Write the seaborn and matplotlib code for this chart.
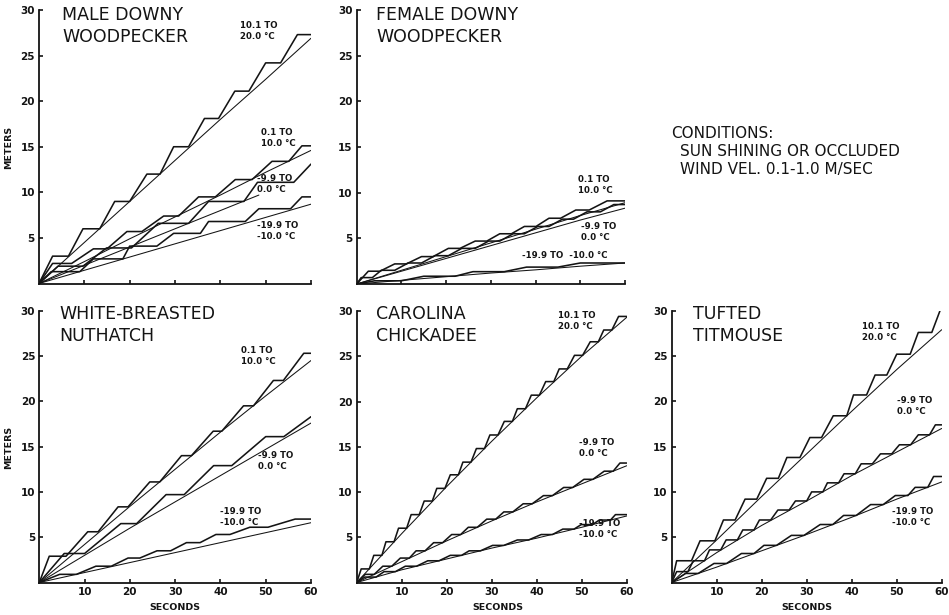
import matplotlib
matplotlib.use("Agg")
import matplotlib.pyplot as plt
import seaborn as sns

# ---------------------------------------------------------------- data
FIT_SECONDS = [0, 10, 20, 30, 40, 50, 60]
Y_TICKS = [5, 10, 15, 20, 25, 30]
X_TICKS = [10, 20, 30, 40, 50, 60]

# Male downy woodpecker
MALE_HOT_LEVEL = [3.0, 6.0, 9.0, 12.0, 15.0, 18.1, 21.1, 24.2, 27.3]
MALE_HOT_START = [3.0, 9.7, 16.7, 23.8, 29.7, 36.5, 43.2, 50.0, 57.0]
MALE_HOT_END = [6.5, 13.4, 20.0, 26.7, 33.0, 39.6, 46.3, 53.3, 60.0]
MALE_HOT_FIT = [0, 4.5, 9.0, 13.5, 18.0, 22.4, 26.9]

MALE_MILD_LEVEL = [2.2, 3.8, 5.7, 7.4, 9.5, 11.4, 13.4, 15.1]
MALE_MILD_START = [3.0, 12.0, 19.4, 27.5, 35.2, 43.3, 51.4, 58.0]
MALE_MILD_END = [7.2, 15.0, 22.7, 30.8, 38.9, 47.0, 55.1, 60.0]
MALE_MILD_FIT = [0, 2.4, 4.9, 7.3, 9.7, 12.2, 14.6]

MALE_COLD_LEVEL = [1.9, 3.9, 6.6, 9.0, 11.1, 13.1]
MALE_COLD_START = [4.2, 14.9, 26.3, 37.4, 48.2, 60.0]
MALE_COLD_END = [9.7, 20.4, 33.0, 45.2, 56.2, 60.0]
MALE_COLD_FIT_SECONDS = [0, 10, 20, 30, 40, 48.5]
MALE_COLD_FIT = [0, 2.0, 4.0, 6.0, 8.0, 9.7]

MALE_FROST_LEVEL = [1.3, 2.7, 4.1, 5.5, 6.8, 8.2, 9.5]
MALE_FROST_START = [2.7, 12.0, 20.0, 29.7, 37.4, 48.5, 58.0]
MALE_FROST_END = [9.0, 18.5, 26.0, 35.6, 45.5, 55.5, 60.0]
MALE_FROST_FIT = [0, 1.45, 2.9, 4.35, 5.8, 7.25, 8.7]

# Female downy woodpecker
FEM_MILD_LEVEL = [1.4, 2.2, 3.0, 3.9, 4.7, 5.5, 6.3, 7.2, 8.1, 9.1]
FEM_MILD_START = [2.6, 8.5, 14.5, 20.5, 26.5, 32.0, 37.5, 43.0, 49.0, 56.0]
FEM_MILD_END = [5.2, 11.1, 17.1, 23.1, 29.1, 34.6, 40.1, 45.6, 52.0, 60.0]
FEM_MILD_FIT = [0, 1.5, 3.0, 4.5, 6.0, 7.5, 8.9]

FEM_COLD_LEVEL = [0.7, 1.5, 2.3, 3.1, 3.9, 4.7, 5.5, 6.3, 7.1, 7.9, 8.7]
FEM_COLD_START = [1.0, 5.5, 11.5, 17.5, 23.5, 29.5, 35.0, 40.5, 46.0, 51.5, 57.5]
FEM_COLD_END = [3.5, 8.5, 14.5, 20.5, 26.5, 32.0, 37.5, 43.0, 48.5, 54.5, 60.0]
FEM_COLD_FIT = [0, 1.4, 2.8, 4.2, 5.6, 7.0, 8.3]

FEM_FROST_LEVEL = [0.35, 0.85, 1.35, 1.85, 2.3]
FEM_FROST_START = [4.0, 15.0, 26.0, 38.0, 50.0]
FEM_FROST_END = [10.0, 22.0, 33.0, 45.0, 60.0]
FEM_FROST_FIT = [0, 0.4, 0.8, 1.2, 1.55, 1.95, 2.3]

# White-breasted nuthatch
NUT_MILD_LEVEL = [2.9, 5.6, 8.35, 11.1, 14.0, 16.7, 19.5, 22.3, 25.3]
NUT_MILD_START = [2.2, 10.7, 17.4, 24.4, 31.4, 38.4, 45.1, 51.7, 58.4]
NUT_MILD_END = [5.9, 13.0, 19.6, 26.6, 33.6, 40.3, 47.3, 53.9, 60.0]
NUT_MILD_FIT = [0, 4.2, 8.4, 12.5, 16.6, 20.6, 24.5]

NUT_COLD_LEVEL = [3.2, 6.5, 9.7, 12.9, 16.1, 18.3]
NUT_COLD_START = [5.5, 18.0, 28.0, 38.5, 50.0, 60.0]
NUT_COLD_END = [10.0, 21.5, 32.0, 42.5, 54.0, 60.0]
NUT_COLD_FIT = [0, 3.0, 6.0, 8.9, 11.8, 14.7, 17.6]

NUT_FROST_LEVEL = [0.9, 1.8, 2.7, 3.5, 4.4, 5.3, 6.1, 7.0]
NUT_FROST_START = [4.5, 12.5, 19.6, 26.0, 32.5, 39.0, 46.5, 56.5]
NUT_FROST_END = [8.2, 15.9, 22.2, 29.0, 35.5, 42.1, 50.5, 60.0]
NUT_FROST_FIT = [0, 1.1, 2.2, 3.3, 4.4, 5.5, 6.6]

# Carolina chickadee
CHI_HOT_LEVEL = [1.5, 3.0, 4.5, 6.0, 7.5, 9.0, 10.4, 11.9, 13.3, 14.8,
                 16.3, 17.8, 19.2, 20.7, 22.2, 23.6, 25.1, 26.6, 27.9, 29.4]
CHI_HOT_START = [1.0, 3.8, 6.5, 9.3, 12.1, 15.0, 17.8, 20.8, 23.6, 26.6,
                 29.6, 32.8, 35.7, 38.8, 42.0, 45.0, 48.4, 51.9, 54.9, 58.2]
CHI_HOT_END = [2.8, 5.6, 8.3, 11.1, 13.9, 16.8, 19.6, 22.6, 25.4, 28.4,
               31.4, 34.6, 37.5, 40.6, 43.8, 46.8, 50.2, 53.7, 56.7, 60.0]
CHI_HOT_FIT = [0, 5.4, 10.6, 15.6, 20.4, 25.0, 29.3]

CHI_COLD_LEVEL = [0.9, 1.8, 2.7, 3.5, 4.4, 5.3, 6.1, 7.0, 7.8, 8.7,
                  9.6, 10.5, 11.4, 12.3, 13.2]
CHI_COLD_START = [1.9, 5.8, 9.7, 13.2, 17.1, 21.1, 24.8, 28.9, 32.7, 37.0,
                  41.5, 46.0, 50.5, 55.0, 58.5]
CHI_COLD_END = [3.9, 7.8, 11.7, 15.2, 19.1, 23.1, 26.8, 30.9, 34.7, 39.0,
                43.5, 48.0, 52.5, 57.0, 60.0]
CHI_COLD_FIT = [0, 2.3, 4.6, 6.8, 8.9, 10.9, 12.9]

CHI_FROST_LEVEL = [0.6, 1.2, 1.8, 2.4, 3.0, 3.5, 4.1, 4.7, 5.3, 5.9, 6.4, 6.9, 7.5]
CHI_FROST_START = [1.8, 6.1, 10.8, 15.8, 20.8, 25.0, 30.2, 35.7, 41.0, 45.8,
                   49.9, 53.9, 57.5]
CHI_FROST_END = [4.3, 8.6, 13.3, 18.3, 23.3, 27.5, 32.7, 38.2, 43.5, 48.3,
                 52.4, 56.4, 60.0]
CHI_FROST_FIT = [0, 1.4, 2.6, 3.8, 4.9, 6.1, 7.35]

# Tufted titmouse
TIT_HOT_LEVEL = [2.4, 4.6, 6.9, 9.2, 11.5, 13.8, 16.0, 18.4, 20.7, 22.9, 25.2, 27.6, 30.5]
TIT_HOT_START = [1.1, 6.3, 11.5, 16.3, 21.1, 25.6, 30.7, 35.9, 40.4, 45.2, 50.0, 54.8, 60.0]
TIT_HOT_END = [4.4, 9.6, 14.1, 18.9, 23.7, 28.5, 33.3, 38.9, 43.3, 47.8, 53.0, 57.8, 60.0]
TIT_HOT_FIT = [0, 4.7, 9.5, 14.2, 18.9, 23.5, 27.9]

TIT_COLD_LEVEL = [1.2, 2.4, 3.6, 4.7, 5.8, 6.9, 8.0, 9.0, 10.0, 11.0,
                  12.0, 13.1, 14.2, 15.2, 16.3, 17.4]
TIT_COLD_START = [1.1, 4.8, 8.4, 12.1, 15.8, 19.5, 23.6, 27.5, 31.1, 34.6,
                  38.3, 42.1, 46.4, 50.6, 54.8, 58.6]
TIT_COLD_END = [3.6, 7.3, 10.9, 14.6, 18.3, 22.0, 26.1, 30.0, 33.6, 37.1,
                40.8, 44.6, 48.9, 53.1, 57.3, 60.0]
TIT_COLD_FIT = [0, 3.3, 6.3, 9.0, 11.8, 14.4, 17.0]

TIT_FROST_LEVEL = [1.0, 2.1, 3.2, 4.1, 5.2, 6.4, 7.4, 8.6, 9.6, 10.5, 11.7]
TIT_FROST_START = [3.1, 9.4, 15.5, 20.5, 26.6, 33.0, 38.2, 44.2, 49.7, 54.1, 58.2]
TIT_FROST_END = [5.9, 12.2, 18.3, 23.3, 29.4, 35.8, 41.0, 47.0, 52.5, 56.9, 60.0]
TIT_FROST_FIT = [0, 1.7, 3.5, 5.3, 7.2, 9.2, 11.1]

TITLES = ["MALE DOWNY\nWOODPECKER", "FEMALE DOWNY\nWOODPECKER",
          "WHITE-BREASTED\nNUTHATCH", "CAROLINA\nCHICKADEE", "TUFTED\nTITMOUSE"]
LBL_HOT = "10.1 TO\n20.0 °C"
LBL_MILD = "0.1 TO\n10.0 °C"
LBL_COLD = "-9.9 TO\n0.0 °C"
LBL_FROST = "-19.9 TO\n-10.0 °C"
LBL_FROST_ONE = "-19.9 TO  -10.0 °C"
CONDITIONS = ["CONDITIONS:", "SUN SHINING OR OCCLUDED", "WIND VEL. 0.1-1.0 M/SEC"]

# ---------------------------------------------------------------- style
sns.set_theme(style="ticks")
plt.rcParams["font.family"] = ["DejaVu Sans"]
INK = "#141414"
W, H = 949, 615

fig = plt.figure(figsize=(W / 100, H / 100), dpi=100)
fig.patch.set_facecolor("white")


def px_axes(x0, x1, ytop, ybot):
    return fig.add_axes([x0 / W, 1 - ybot / H, (x1 - x0) / W, (ybot - ytop) / H])


def ftext(x, y, s, size, **kw):
    fig.text(x / W, 1 - y / H, s, fontsize=size, color=INK, va="top", ha="left", **kw)


def stair(levels, starts, ends):
    xs, ys = [0.0], [0.0]
    for lv, a, b in zip(levels, starts, ends):
        xs += [a, b]
        ys += [lv, lv]
    return xs, ys


def draw_series(ax, levels, starts, ends, fit, fit_x=FIT_SECONDS):
    xs, ys = stair(levels, starts, ends)
    sns.lineplot(x=xs, y=ys, ax=ax, sort=False, estimator=None, color=INK,
                 linewidth=1.15, legend=False)
    sns.lineplot(x=fit_x, y=fit, ax=ax, sort=False, estimator=None, color=INK,
                 linewidth=0.75, legend=False)


def style_axes(ax, bottom_labels):
    ax.set_xlim(0, 60)
    ax.set_ylim(0, 30)
    for s in ("top", "right"):
        ax.spines[s].set_visible(False)
    for s in ("left", "bottom"):
        ax.spines[s].set_color(INK)
        ax.spines[s].set_linewidth(1.3)
    ax.set_yticks(Y_TICKS)
    ax.set_yticklabels([str(v) for v in Y_TICKS], fontsize=7.5, fontweight="bold", color=INK)
    ax.set_xticks(X_TICKS)
    if bottom_labels:
        ax.set_xticklabels([str(v) for v in X_TICKS], fontsize=7.5, fontweight="bold", color=INK)
    else:
        ax.set_xticklabels([])
    ax.tick_params(direction="in", length=3, width=1.2, color=INK, pad=3)
    ax.set_xlabel("")
    ax.set_ylabel("")
    ax.patch.set_alpha(0)


axA = px_axes(39, 311, 10, 283.5)
axB = px_axes(356.7, 625, 10, 284)
axC = px_axes(39.3, 311, 310.7, 582.5)
axD = px_axes(356.7, 626.7, 311, 582.5)
axE = px_axes(671.7, 941.7, 310.7, 582.5)

draw_series(axA, MALE_HOT_LEVEL, MALE_HOT_START, MALE_HOT_END, MALE_HOT_FIT)
draw_series(axA, MALE_MILD_LEVEL, MALE_MILD_START, MALE_MILD_END, MALE_MILD_FIT)
draw_series(axA, MALE_COLD_LEVEL, MALE_COLD_START, MALE_COLD_END, MALE_COLD_FIT,
            MALE_COLD_FIT_SECONDS)
draw_series(axA, MALE_FROST_LEVEL, MALE_FROST_START, MALE_FROST_END, MALE_FROST_FIT)

draw_series(axB, FEM_MILD_LEVEL, FEM_MILD_START, FEM_MILD_END, FEM_MILD_FIT)
draw_series(axB, FEM_COLD_LEVEL, FEM_COLD_START, FEM_COLD_END, FEM_COLD_FIT)
draw_series(axB, FEM_FROST_LEVEL, FEM_FROST_START, FEM_FROST_END, FEM_FROST_FIT)

draw_series(axC, NUT_MILD_LEVEL, NUT_MILD_START, NUT_MILD_END, NUT_MILD_FIT)
draw_series(axC, NUT_COLD_LEVEL, NUT_COLD_START, NUT_COLD_END, NUT_COLD_FIT)
draw_series(axC, NUT_FROST_LEVEL, NUT_FROST_START, NUT_FROST_END, NUT_FROST_FIT)

draw_series(axD, CHI_HOT_LEVEL, CHI_HOT_START, CHI_HOT_END, CHI_HOT_FIT)
draw_series(axD, CHI_COLD_LEVEL, CHI_COLD_START, CHI_COLD_END, CHI_COLD_FIT)
draw_series(axD, CHI_FROST_LEVEL, CHI_FROST_START, CHI_FROST_END, CHI_FROST_FIT)

draw_series(axE, TIT_HOT_LEVEL, TIT_HOT_START, TIT_HOT_END, TIT_HOT_FIT)
draw_series(axE, TIT_COLD_LEVEL, TIT_COLD_START, TIT_COLD_END, TIT_COLD_FIT)
draw_series(axE, TIT_FROST_LEVEL, TIT_FROST_START, TIT_FROST_END, TIT_FROST_FIT)

style_axes(axA, False)
style_axes(axB, False)
style_axes(axC, True)
style_axes(axD, True)
style_axes(axE, True)

# panel titles
for (x, y), t in zip([(62, 6), (376, 6), (59, 305), (376, 305), (693, 305)], TITLES):
    ftext(x, y, t, 12.5, linespacing=1.3)

# series labels
LS = 1.35
SZ = 6.2
LW = "bold"
ftext(240, 21, LBL_HOT, SZ, linespacing=LS, fontweight=LW)
ftext(261, 128, LBL_MILD, SZ, linespacing=LS, fontweight=LW)
ftext(257, 174, LBL_COLD, SZ, linespacing=LS, fontweight=LW)
ftext(257, 221, LBL_FROST, SZ, linespacing=LS, fontweight=LW)

ftext(578, 175, LBL_MILD, SZ, linespacing=LS, fontweight=LW)
ftext(581, 222, LBL_COLD, SZ, linespacing=LS, fontweight=LW)
ftext(522, 251, LBL_FROST_ONE, SZ, fontweight=LW)

ftext(241, 346, LBL_MILD, SZ, linespacing=LS, fontweight=LW)
ftext(258, 451, LBL_COLD, SZ, linespacing=LS, fontweight=LW)
ftext(220, 507, LBL_FROST, SZ, linespacing=LS, fontweight=LW)

ftext(558, 311, LBL_HOT, SZ, linespacing=LS, fontweight=LW)
ftext(579, 438, LBL_COLD, SZ, linespacing=LS, fontweight=LW)
ftext(579, 519, LBL_FROST, SZ, linespacing=LS, fontweight=LW)

ftext(862, 322, LBL_HOT, SZ, linespacing=LS, fontweight=LW)
ftext(897, 396, LBL_COLD, SZ, linespacing=LS, fontweight=LW)
ftext(892, 507, LBL_FROST, SZ, linespacing=LS, fontweight=LW)

# conditions note
ftext(671, 126, CONDITIONS[0], 11)
ftext(680, 144, CONDITIONS[1], 11)
ftext(680, 162, CONDITIONS[2], 11)

# axis names
for yc in (147, 447):
    fig.text(9 / W, 1 - yc / H, "METERS", rotation=90, fontsize=6.8, fontweight="bold",
             color=INK, ha="center", va="center")
for xc in (175, 498, 807):
    fig.text(xc / W, 1 - 608 / H, "SECONDS", fontsize=6.8, fontweight="bold",
             color=INK, ha="center", va="center")

fig.savefig("out.png", dpi=100, facecolor="white")
